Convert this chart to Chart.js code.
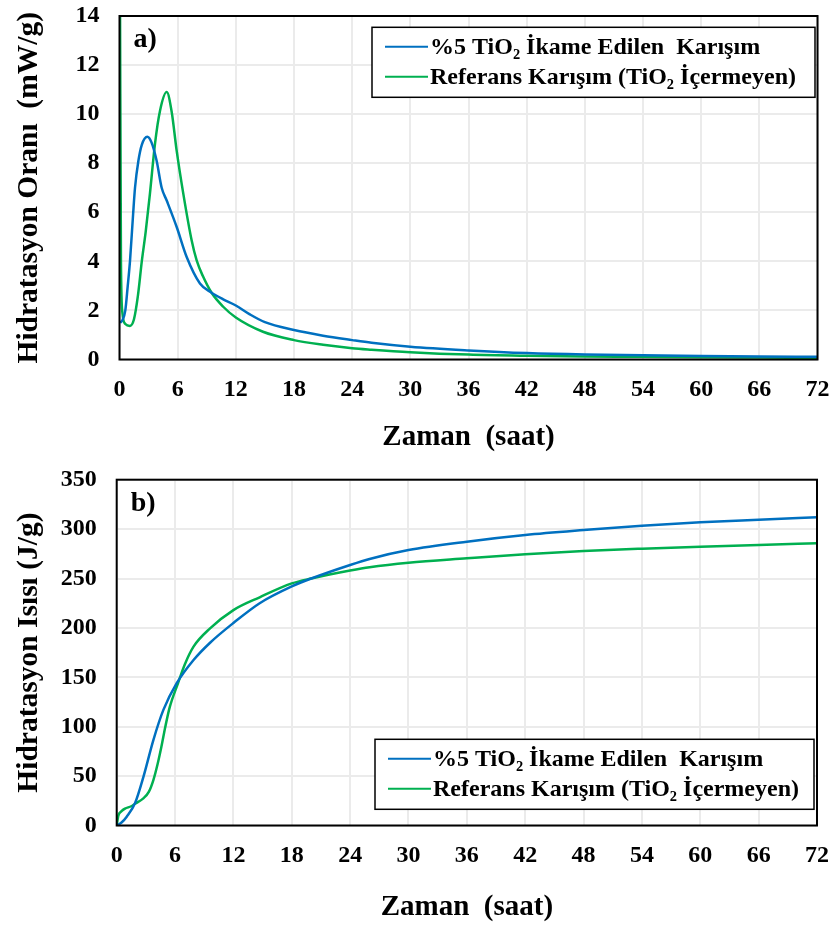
<!DOCTYPE html>
<html>
<head>
<meta charset="utf-8">
<script src="https://cdn.jsdelivr.net/npm/chart.js@4.4.0/dist/chart.umd.min.js"></script>
<style>
  body { margin: 0; background: #fff; }
  canvas { display: block; }
</style>
</head>
<body>
<canvas id="chartRate" width="834" height="463"></canvas>
<canvas id="chartHeat" width="834" height="463"></canvas>
<script>
// Series names and axis texts
const seriesNames = ["%5 TiO\u2082 \u0130kame Edilen  Kar\u0131\u015f\u0131m", "Referans Kar\u0131\u015f\u0131m (TiO\u2082 \u0130\u00e7ermeyen)"];
const xTitle = "Zaman  (saat)";
const rateTitle = "Hidratasyon Oran\u0131  (mW/g)";
const heatTitle = "Hidratasyon Is\u0131s\u0131 (J/g)";

// a) hydration rate, mW/g (time in hours)
const rateTimeTiO2 = [0.05, 0.3, 0.6, 0.85, 1.08, 1.4, 1.6, 1.95, 2.3, 2.87, 3.3, 3.83, 4.35, 4.87, 5.9, 6.93, 8.3, 9.5, 10.7, 12, 13.4, 15, 18, 21, 24, 26, 30, 36, 42, 48, 54, 60, 66, 72];
const rateTiO2     = [1.5, 1.6, 2.0, 3.0, 4.0, 5.9, 7.0, 8.1, 8.75, 9.08, 8.85, 8.1, 7.0, 6.48, 5.4, 4.18, 3.1, 2.72, 2.45, 2.2, 1.85, 1.52, 1.2, 0.97, 0.79, 0.68, 0.52, 0.37, 0.26, 0.2, 0.17, 0.14, 0.12, 0.11];
const rateTimeRef  = [0.05, 0.15, 0.3, 0.6, 1.08, 1.5, 1.9, 2.3, 2.7, 3.14, 3.66, 4.18, 4.87, 5.38, 5.9, 6.58, 7.44, 7.96, 8.6, 9.5, 10.7, 12, 14.8, 18, 21, 24, 26, 30, 36, 42, 48, 54, 60, 66, 72];
const rateRef      = [15, 4, 1.9, 1.45, 1.37, 1.65, 2.6, 4.0, 5.2, 6.76, 8.79, 10.14, 10.9, 10.1, 8.5, 6.76, 4.86, 4.04, 3.4, 2.72, 2.15, 1.71, 1.13, 0.79, 0.6, 0.46, 0.4, 0.3, 0.2, 0.15, 0.12, 0.11, 0.09, 0.08, 0.07];

// b) cumulative heat, J/g
const heatTimeTiO2 = [0, 0.5, 1.03, 1.88, 2.74, 3.77, 4.8, 6.17, 7.9, 9.6, 12, 14.7, 18, 20, 24, 26, 30, 36, 42, 48, 54, 60, 66, 72];
const heatTiO2     = [0, 3, 8.9, 22.5, 49, 86.5, 117, 144, 167.5, 185, 205, 225, 242, 250, 263.7, 269.8, 278.8, 287.3, 294, 299, 303.4, 306.9, 309.5, 312];
const heatTimeRef  = [0, 0.17, 0.5, 0.85, 1.5, 1.88, 2.74, 3.3, 3.77, 4.2, 4.6, 5.0, 5.46, 6.3, 7.0, 7.9, 9.6, 12, 14.7, 18, 20, 24, 26, 30, 36, 42, 48, 54, 60, 66, 72];
const heatRef      = [0, 10, 14.5, 17, 19.5, 22, 27.5, 34, 46, 62, 80, 100, 120, 144, 163, 181, 199.5, 218, 231, 245, 250, 258, 261.4, 266, 270.4, 274.5, 277.8, 280.2, 282.2, 284, 285.6];

const blue = "#0070C0";
const green = "#00B050";
const serif = "'Liberation Serif', 'Times New Roman', serif";

function pairs(xs, ys) {
  return xs.map((x, i) => ({ x: x, y: ys[i] }));
}

// frame round the plot, panel letter and the boxed legend
const framePlugin = {
  id: 'frame',
  afterDraw(chart, args, opts) {
    const ctx = chart.ctx;
    const a = chart.chartArea;
    ctx.save();
    ctx.strokeStyle = '#000';
    ctx.lineWidth = 2;
    ctx.strokeRect(a.left, a.top, a.right - a.left, a.bottom - a.top);

    ctx.fillStyle = '#000';
    ctx.font = 'bold 28px ' + serif;
    ctx.textBaseline = 'alphabetic';
    ctx.textAlign = 'left';
    ctx.fillText(opts.panel, a.left + 14, a.top + 31);

    const bx = a.right - opts.boxRight - opts.boxW;
    const by = opts.boxTop != null ? a.top + opts.boxTop : a.bottom - opts.boxBottom - opts.boxH;
    ctx.fillStyle = '#fff';
    ctx.fillRect(bx, by, opts.boxW, opts.boxH);
    ctx.lineWidth = 1.5;
    ctx.strokeRect(bx, by, opts.boxW, opts.boxH);

    ctx.font = 'bold 24px ' + serif;
    ctx.textBaseline = 'middle';
    chart.data.datasets.forEach((ds, i) => {
      const yy = by + 19.5 + i * 30;
      ctx.strokeStyle = ds.borderColor;
      ctx.lineWidth = 2;
      ctx.beginPath();
      ctx.moveTo(bx + 13, yy);
      ctx.lineTo(bx + 56, yy);
      ctx.stroke();
      ctx.fillStyle = '#000';
      ctx.fillText(ds.label, bx + 58, yy + 1);
    });
    ctx.restore();
  }
};

function makeChart(id, datasets, yMax, yStep, yTitleText, geom, frameOpts) {
  return new Chart(document.getElementById(id), {
    type: 'line',
    data: { datasets: datasets },
    options: {
      responsive: false,
      animation: false,
      layout: { padding: { left: 0, right: geom.right, top: geom.top, bottom: 0 } },
      elements: { point: { radius: 0 }, line: { borderWidth: 2.5, cubicInterpolationMode: 'monotone' } },
      plugins: { legend: { display: false }, tooltip: { enabled: false }, frame: frameOpts },
      scales: {
        x: {
          type: 'linear', min: 0, max: 72,
          afterFit: s => { s.height = geom.xHeight; s.paddingLeft = 0; s.paddingRight = 0; },
          ticks: { stepSize: 6, padding: 16, color: '#000', font: { family: serif, size: 24, weight: 'bold' } },
          grid: { color: '#ebebeb', lineWidth: 2, drawTicks: false },
          border: { display: false },
          title: { display: true, text: xTitle, color: '#000', padding: { bottom: geom.xTitlePad }, font: { family: serif, size: 29, weight: 'bold' } }
        },
        y: {
          min: 0, max: yMax,
          afterFit: s => { s.width = geom.yWidth; s.paddingTop = 0; s.paddingBottom = 0; },
          ticks: { stepSize: yStep, padding: 20, color: '#000', font: { family: serif, size: 24, weight: 'bold' } },
          grid: { color: '#ebebeb', lineWidth: 2, drawTicks: false },
          border: { display: false },
          title: { display: true, text: yTitleText, color: '#000', padding: { top: 12 }, font: { family: serif, size: 29.5, weight: 'bold' } }
        }
      }
    },
    plugins: [framePlugin]
  });
}

makeChart('chartRate', [
  { label: seriesNames[0], data: pairs(rateTimeTiO2, rateTiO2), borderColor: blue },
  { label: seriesNames[1], data: pairs(rateTimeRef, rateRef), borderColor: green }
], 14, 2, rateTitle,
  { right: 16.5, top: 16, xHeight: 103.5, yWidth: 119.5, xTitlePad: 8 },
  { panel: 'a)', boxRight: 2.5, boxTop: 11.3, boxW: 443, boxH: 70 });

makeChart('chartHeat', [
  { label: seriesNames[0], data: pairs(heatTimeTiO2, heatTiO2), borderColor: blue },
  { label: seriesNames[1], data: pairs(heatTimeRef, heatRef), borderColor: green }
], 350, 50, heatTitle,
  { right: 17, top: 16.7, xHeight: 100.5, yWidth: 116.7, xTitlePad: 1 },
  { panel: 'b)', boxRight: 3, boxBottom: 16.2, boxW: 439, boxH: 70 });
</script>
</body>
</html>
